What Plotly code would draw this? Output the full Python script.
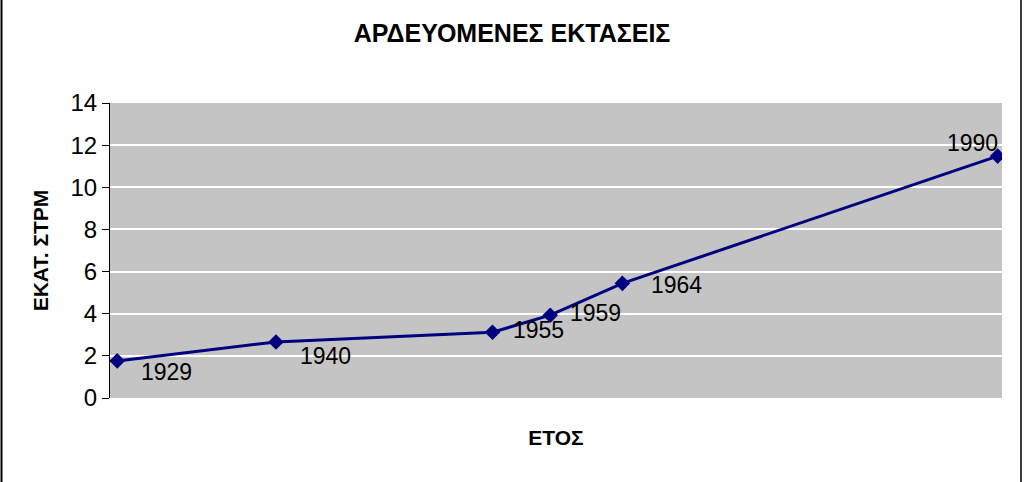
import plotly.graph_objects as go

# data
years = [1929, 1940, 1955, 1959, 1964, 1990]
area = [1.76, 2.66, 3.12, 3.93, 5.44, 11.48]
labels = [str(y) for y in years]

# label offsets in px (xshift, yshift, xanchor)
label_pos = [(22, -11, 'left'), (22, -14, 'left'), (19, 2, 'left'),
             (18, 2, 'left'), (27, -2, 'left'), (2, 13, 'right')]

font = 'Liberation Sans, Arial, sans-serif'

# plot area size in px, used to place the outer frame
pw, ph = 892, 295
ml, mt, mb = 110, 103, 84

fig = go.Figure()
fig.add_trace(go.Scatter(
    x=years,
    y=area,
    mode='lines+markers',
    line=dict(color='#000080', width=3),
    marker=dict(symbol='diamond', size=12, color='#000080'),
    showlegend=False,
    hoverinfo='x+y',
))

for xv, yv, txt, (dx, dy, anc) in zip(years, area, labels, label_pos):
    fig.add_annotation(
        x=xv, y=yv, text=txt, showarrow=False,
        xanchor=anc, yanchor='middle', xshift=dx, yshift=dy,
        font=dict(family=font, size=23, color='black'),
    )

# outer frame (left and right edges of the picture)
for px_x, w in [(1.5, 2), (1021, 1.5)]:
    fig.add_shape(type='line', xref='paper', yref='paper',
                  x0=(px_x - ml) / pw, x1=(px_x - ml) / pw,
                  y0=-(mb + 5) / ph, y1=1 + (mt + 5) / ph,
                  line=dict(color='black', width=w))

fig.update_layout(
    width=1024,
    height=482,
    margin=dict(l=ml, r=1024 - ml - pw, t=mt, b=mb),
    paper_bgcolor='white',
    plot_bgcolor='#c4c4c4',
    font=dict(family=font, color='black'),
    title=dict(
        text='<b>ΑΡΔΕΥΟΜΕΝΕΣ ΕΚΤΑΣΕΙΣ</b>',
        x=0.5, xanchor='center', y=0.932, yanchor='middle',
        font=dict(size=25, family=font),
    ),
    xaxis=dict(
        range=[1928.5, 1990.3],
        showticklabels=False,
        showgrid=False,
        zeroline=False,
        ticks='',
        title=dict(text='<b>ΕΤΟΣ</b>', font=dict(size=21), standoff=32),
    ),
    yaxis=dict(
        range=[0, 14],
        dtick=2,
        showgrid=True,
        gridcolor='white',
        gridwidth=1.5,
        zeroline=False,
        showline=True,
        linecolor='black',
        linewidth=1,
        ticks='outside',
        ticklen=7,
        tickcolor='black',
        tickfont=dict(size=24),
        title=dict(text='<b>ΕΚΑΤ. ΣΤΡΜ</b>', font=dict(size=21), standoff=16),
    ),
)

fig.write_html('out.html', config={'displayModeBar': False},
               post_script="document.body.style.margin='0';")
